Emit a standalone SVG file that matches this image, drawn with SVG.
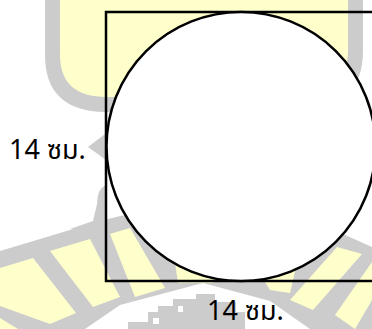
<svg xmlns="http://www.w3.org/2000/svg" width="372" height="329" viewBox="0 0 372 329">
<style>
.g{fill:#cccccc}
.y{fill:#ffffcc}
.ln{fill:none;stroke:#000;stroke-width:2.5}
.lbl{font-family:"Noto Sans","Noto Sans Thai","DejaVu Sans",sans-serif;font-size:27px;fill:#000}
</style>
<rect width="372" height="329" fill="#fff"/>
<g id="watermark">
<path class="g" d="M45 0 L45 55 Q45 111 105 112 L300 112 Q363 110 363 50 L363 0 Z"/>
<path class="y" d="M60 0 L60 55 Q60 97 107 97 L300 97 Q348 95 348 50 L348 0 Z"/>
<polygon class="g" points="88,147 105,134 106,160"/>
<path class="g" d="M106 185 Q97 189 97 204 L93 221 L70 229 L106 234 Z"/>
<path class="g" d="M0 251 L100 221 Q200 192 343 234 L372 247 L372 329 L310 329 L270 301 L203 283 L120 305 L85 329 L0 329 Z"/>
<polygon class="y" points="0,268 33,258 76,313 50,324 0,306"/>
<polygon class="y" points="0,318 18,329 0,329"/>
<polygon class="y" points="50,251 90,239 120,297 93,307"/>
<polygon class="y" points="110,234 130,228 165,288 135,297"/>
<polygon class="y" points="175,262 230,262 213,283 178,283"/>
<polygon class="y" points="250,258 300,250 290,293 270,290"/>
<polygon class="y" points="337,247 362,254 313,310 290,300"/>
<polygon class="y" points="372,262 372,300 355,329 335,315"/>
<polygon class="g" points="128,329 128,322 148,322 148,312 158,312 158,306 173,306 173,299 196,299 196,294 215,294 215,302 236,302 236,312 245,312 245,329"/>
<rect x="153" y="318" width="6" height="6" fill="#fff"/>
<rect x="178" y="306" width="5" height="6" fill="#fff"/>
</g>
<g id="connectors"/>
<g id="square"><rect class="ln" x="106" y="12" width="270" height="269"/></g>
<g id="circle"><circle cx="241" cy="146.5" r="134.5" fill="#fff" stroke="#000" stroke-width="2.5"/></g>
<g id="label-left"><text class="lbl" x="9" y="159">14 ซม.</text></g>
<g id="label-bottom"><text class="lbl" x="207" y="320">14 ซม.</text></g>
</svg>
